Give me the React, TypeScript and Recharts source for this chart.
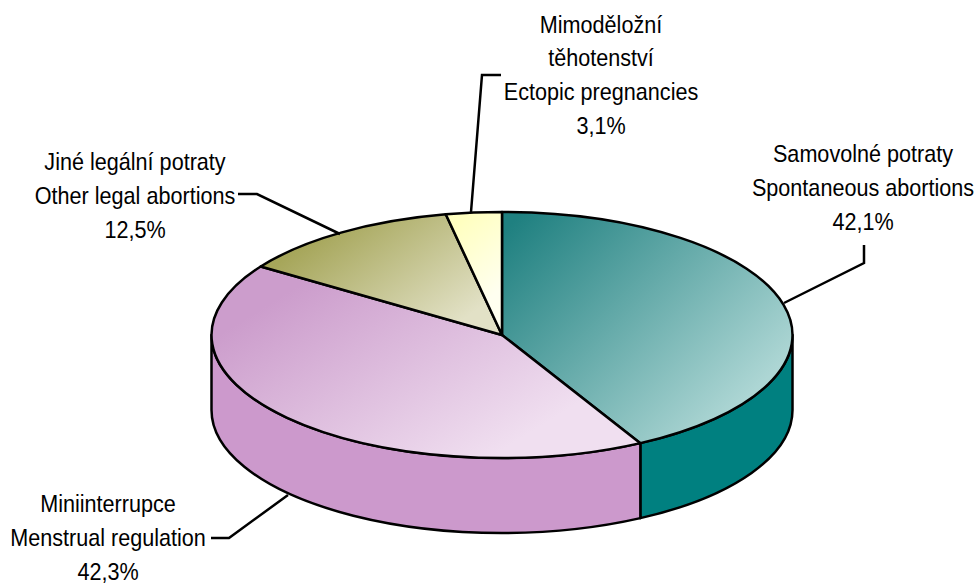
import React from "react";
import { PieChart, Pie } from "recharts";

const categories = ["Spontaneous abortions", "Menstrual regulation", "Other legal abortions", "Ectopic pregnancies"];
const czechLines = [["Samovolné potraty"], ["Miniinterrupce"], ["Jiné legální potraty"], ["Mimoděložní", "těhotenství"]];
const shares = [42.1, 42.3, 12.5, 3.1];
const sideColors = ["#008080", "#cc99cc", "#a6a65a", "#ffffcc"];
const gradientIds = ["topTeal", "topPink", "topOlive", "topYellow"];

const data = categories.map((name, i) => ({ name, value: shares[i] }));

const CX = 502;
const CY = 335;
const RX = 290.5;
const RY = 123;
const DEPTH = 75;
const LINE_HEIGHT = 33.8;
const STROKE = 2.5;

// label block: centre x and baseline of the last line, leader polyline
const labelLayout = [
	{ x: 863, y: 230, leader: "864,245 864,263 784,303" },
	{ x: 108, y: 580, leader: "211,538 229,538 288,495" },
	{ x: 135, y: 238, leader: "238,194 257,194 340,234" },
	{ x: 601, y: 134, leader: "501,75 482,75 471,212" },
];

const px = (a: number) => CX + RX * Math.cos((a * Math.PI) / 180);
const py = (a: number, dy = 0) => CY + dy - RY * Math.sin((a * Math.PI) / 180);

// the library hands us the sector angles, we only squash them onto the tilted disc
const TiltedSector = (props: any) => {
	const { startAngle, endAngle, index } = props;
	const large = Math.abs(startAngle - endAngle) > 180 ? 1 : 0;
	const top = `M${CX},${CY} L${px(startAngle)},${py(startAngle)} A${RX},${RY} 0 ${large} 1 ${px(endAngle)},${py(endAngle)} Z`;

	const hi = Math.min(startAngle, 0);
	const lo = Math.max(endAngle, -180);
	let wall = null;
	if (hi > lo) {
		wall = (
			<path
				d={`M${px(hi)},${py(hi)} L${px(hi)},${py(hi, DEPTH)} A${RX},${RY} 0 0 1 ${px(lo)},${py(lo, DEPTH)} L${px(lo)},${py(lo)} A${RX},${RY} 0 0 0 ${px(hi)},${py(hi)} Z`}
				fill={sideColors[index]}
				stroke="#000"
				strokeWidth={STROKE}
				strokeLinejoin="round"
			/>
		);
	}
	return (
		<g>
			{wall}
			<path d={top} fill={`url(#${gradientIds[index]})`} stroke="#000" strokeWidth={STROKE} strokeLinejoin="round" />
		</g>
	);
};

const SliceLabel = (props: any) => {
	const { index } = props;
	const spot = labelLayout[index];
	const lines = [...czechLines[index], categories[index], shares[index].toFixed(1).replace(".", ",") + "%"];
	return (
		<g>
			<polyline points={spot.leader} fill="none" stroke="#000" strokeWidth={STROKE} />
			{lines.map((line, i) => (
				<text
					key={line}
					transform={`translate(${spot.x},${spot.y - (lines.length - 1 - i) * LINE_HEIGHT}) scale(0.9,1)`}
					textAnchor="middle"
					fontFamily="Liberation Sans"
					fontSize={24}
					fill="#000"
				>
					{line}
				</text>
			))}
		</g>
	);
};

export default function App() {
	return (
		<div style={{ position: "absolute", left: 0, top: 0 }}>
			<PieChart width={979} height={583} margin={{ top: 0, right: 0, bottom: 0, left: 0 }}>
				<defs>
					<linearGradient id="topTeal" gradientUnits="userSpaceOnUse" x1="520" y1="215" x2="725" y2="420">
						<stop offset="0" stopColor="#1f8080" />
						<stop offset="1" stopColor="#add6d4" />
					</linearGradient>
					<linearGradient id="topPink" gradientUnits="userSpaceOnUse" x1="340" y1="260" x2="470" y2="470">
						<stop offset="0" stopColor="#cc9dcc" />
						<stop offset="1" stopColor="#f0dff0" />
					</linearGradient>
					<linearGradient id="topOlive" gradientUnits="userSpaceOnUse" x1="345" y1="215" x2="435" y2="340">
						<stop offset="0" stopColor="#a6a65a" />
						<stop offset="1" stopColor="#e2e1c6" />
					</linearGradient>
					<linearGradient id="topYellow" gradientUnits="userSpaceOnUse" x1="450" y1="230" x2="500" y2="290">
						<stop offset="0" stopColor="#ffffc0" />
						<stop offset="1" stopColor="#fffff0" />
					</linearGradient>
				</defs>
				<Pie
					data={data}
					dataKey="value"
					nameKey="name"
					cx={CX}
					cy={CY}
					outerRadius={RX}
					startAngle={90}
					endAngle={-270}
					shape={TiltedSector}
					label={SliceLabel}
					labelLine={false}
					isAnimationActive={false}
				/>
			</PieChart>
		</div>
	);
}
